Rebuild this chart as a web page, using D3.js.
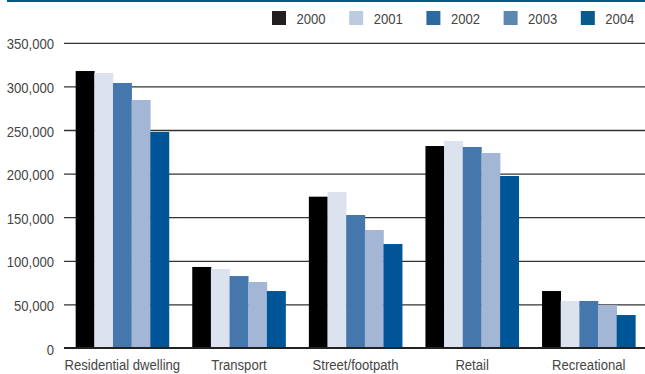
<!DOCTYPE html>
<html>
<head>
<meta charset="utf-8">
<script src="https://cdn.jsdelivr.net/npm/d3@7"></script>
<style>
  html, body { margin: 0; padding: 0; background: #fff; }
  svg { display: block; }
  text { font-family: "Liberation Sans", Arial, sans-serif; font-size: 15.4px; fill: #454545; }
</style>
</head>
<body>
<svg id="chart" width="645" height="374"></svg>
<script>
// Incidents by location type, 2000–2004
const categories = ["Residential dwelling", "Transport", "Street/footpath", "Retail", "Recreational"];
const years = ["2000", "2001", "2002", "2003", "2004"];
const values2000 = [318200, 93500, 174100, 232200, 65900];
const values2001 = [316000, 91200, 179500, 238000, 54500];
const values2002 = [304500, 83100, 153100, 231100, 54500];
const values2003 = [285000, 76300, 135900, 224200, 49900];
const values2004 = [248300, 65900, 119800, 197800, 38400];
const yTicks = [0, 50000, 100000, 150000, 200000, 250000, 300000, 350000];

const series = [values2000, values2001, values2002, values2003, values2004];
const barColors = ["#000000", "#dce3ef", "#4577ad", "#a3b6d6", "#005596"];
const legendColors = ["#231f20", "#bccbe0", "#2a6a9e", "#5b87b3", "#065a8c"];

// condensed look: squeeze glyphs horizontally around each text's anchor
const SQ = 0.85;

const svg = d3.select("#chart");
const W = 645;
const plotLeft = 64, plotRight = 647, plotTop = 43.3, plotBottom = 348.5;

const y = d3.scaleLinear().domain([0, 350000]).range([plotBottom, plotTop]);
const x0 = d3.scaleBand().domain(categories).range([plotLeft, plotRight]).paddingInner(0.2).paddingOuter(0.1);
const x1 = d3.scaleBand().domain(years).range([0, x0.bandwidth()]);

// top rule
svg.append("rect").attr("x", 7).attr("y", 0).attr("width", W - 7).attr("height", 2).attr("fill", "#005a8c");

// value axis
const yAxis = d3.axisLeft(y).tickValues(yTicks).tickSize(0).tickPadding(0)
  .tickFormat(d => d3.format(",")(d));
const gy = svg.append("g").attr("transform", `translate(${plotLeft},0)`).call(yAxis);
gy.select(".domain").remove();
gy.selectAll("text")
  .attr("x", -10 / SQ).attr("dy", "0.36em")
  .attr("transform", `scale(${SQ},1)`)
  .attr("fill", "#454545").attr("font-size", null).attr("font-family", null);

// gridlines
svg.append("g").selectAll("line").data(yTicks.filter(d => d > 0)).join("line")
  .attr("x1", plotLeft).attr("x2", W)
  .attr("y1", d => y(d)).attr("y2", d => y(d))
  .attr("stroke", "#333").attr("stroke-width", 1.3);

// bars
const groups = svg.append("g").selectAll("g").data(categories).join("g")
  .attr("transform", d => `translate(${x0(d)},0)`);
groups.selectAll("rect")
  .data((c, i) => years.map((yr, j) => ({ yr, j, v: series[j][i] })))
  .join("rect")
  .attr("x", d => x1(d.yr))
  .attr("width", x1.bandwidth() + 0.3)
  .attr("y", d => y(d.v))
  .attr("height", d => plotBottom - y(d.v))
  .attr("fill", d => barColors[d.j]);

// baseline
svg.append("line").attr("x1", plotLeft).attr("x2", W).attr("y1", y(0) - 0.5).attr("y2", y(0) - 0.5)
  .attr("stroke", "#222").attr("stroke-width", 2);

// category axis
const xAxis = d3.axisBottom(x0).tickSize(0).tickPadding(0);
const gx = svg.append("g").attr("transform", `translate(0,${plotBottom})`).call(xAxis);
gx.select(".domain").remove();
gx.selectAll("text")
  .attr("dy", "0").attr("y", 21.5)
  .attr("transform", `scale(${SQ},1)`)
  .attr("fill", "#454545").attr("font-size", null).attr("font-family", null);

// legend
const legend = svg.append("g").selectAll("g").data(years).join("g")
  .attr("transform", (d, i) => `translate(${272 + i * 77.2},11)`);
legend.append("rect").attr("width", 14).attr("height", 14).attr("fill", (d, i) => legendColors[i]);
legend.append("text")
  .attr("x", 24.5 / SQ).attr("y", 13)
  .attr("transform", `scale(${SQ},1)`)
  .text(d => d);
</script>
</body>
</html>
